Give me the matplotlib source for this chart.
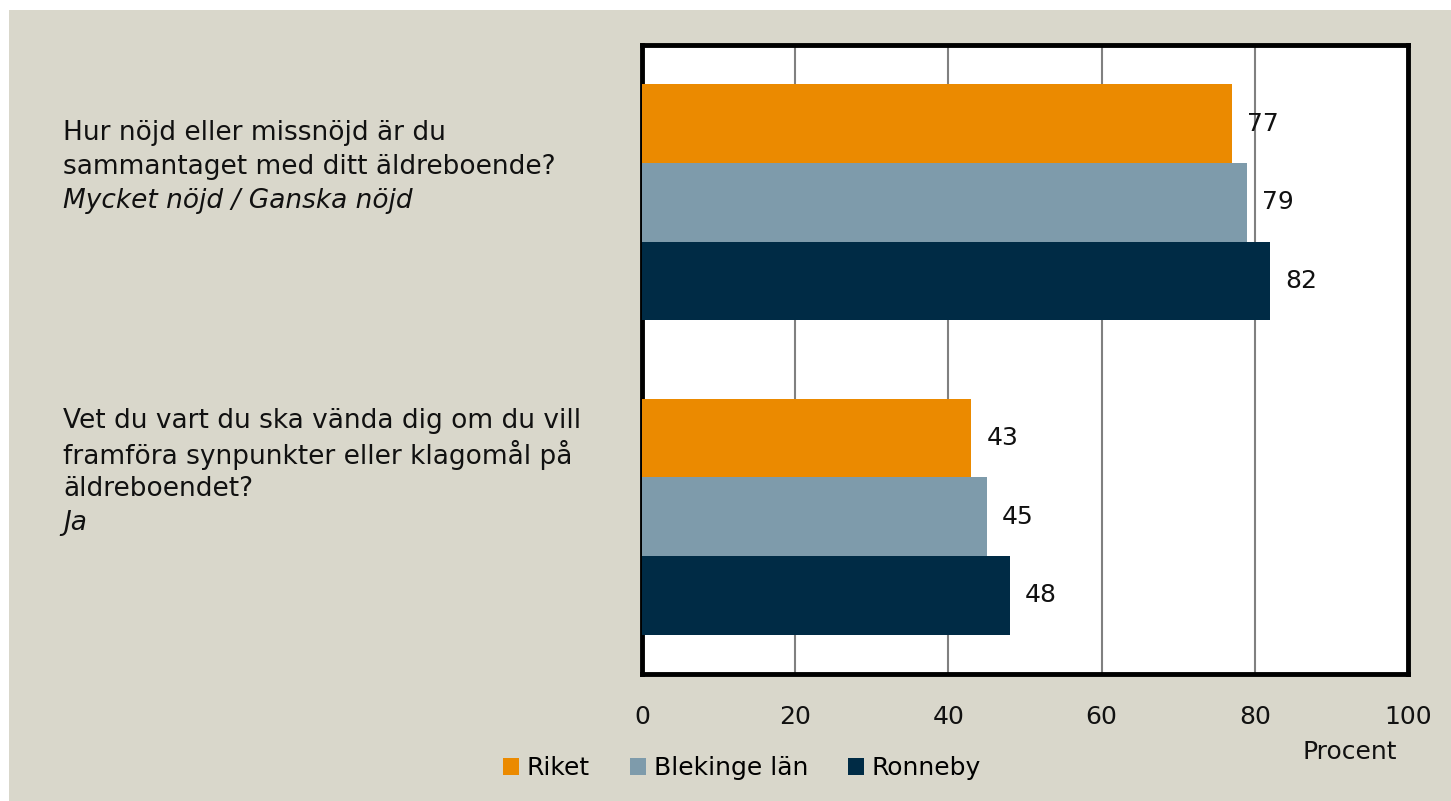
import numpy as np
import matplotlib
matplotlib.use("Agg")
import matplotlib.pyplot as plt
from matplotlib.patches import Rectangle

series = ["Riket", "Blekinge län", "Ronneby"]
riket = [77, 43]
blekinge = [79, 45]
ronneby = [82, 48]
colors = ["#EB8A00", "#7E9BAB", "#002B45"]
questions = [
    (["Hur nöjd eller missnöjd är du", "sammantaget med ditt äldreboende?"], "Mycket nöjd / Ganska nöjd"),
    (["Vet du vart du ska vända dig om du vill", "framföra synpunkter eller klagomål på", "äldreboendet?"], "Ja"),
]
xticks = [0, 20, 40, 60, 80, 100]

bg = "#D9D7CB"
fs = 17
qfs = 19
plt.rcParams["font.family"] = ["DejaVu Sans"]

W, H = 1451, 801
fig = plt.figure(figsize=(W / 100, H / 100), dpi=100)
fig.patch.set_facecolor("white")
fig.add_artist(Rectangle((9 / W, 0), 1, 1 - 10 / H, transform=fig.transFigure,
                         facecolor=bg, edgecolor="none", zorder=-10))

ax = fig.add_axes([642 / W, 1 - 674 / H, 766 / W, 629 / H])
ax.set_facecolor("white")

y = np.arange(len(riket))
h = 0.25
for i, (vals, c, name) in enumerate(zip([riket, blekinge, ronneby], colors, series)):
    pos = y + (i - 1) * h
    ax.barh(pos, vals, height=h, color=c, label=name, zorder=3)
    for p, v in zip(pos, vals):
        ax.text(v + 2, p, str(v), va="center", ha="left", fontsize=fs + 1, color="#111111")

ax.set_xlim(0, 100)
ax.set_ylim(1.5, -0.5)
ax.set_xticks(xticks)
ax.set_yticks([])
ax.xaxis.grid(True, color="#808080", linewidth=1.5, zorder=0)
ax.tick_params(axis="x", length=0, pad=22, labelsize=fs + 1, colors="#111111")
for s in ax.spines.values():
    s.set_linewidth(3.5)
    s.set_color("black")

# question labels on the left
starts = [133, 421]
step = 34
for (lines, sub), y0 in zip(questions, starts):
    for k, line in enumerate(lines):
        fig.text(63 / W, 1 - (y0 + k * step) / H, line, fontsize=qfs, va="center", ha="left", color="#111111")
    fig.text(63 / W, 1 - (y0 + len(lines) * step) / H, sub, fontsize=qfs, style="italic",
             va="center", ha="left", color="#111111")

fig.text(1350 / W, 1 - 752 / H, "Procent", fontsize=fs + 1, ha="center", va="center", color="#111111")

fig.legend(loc="center", bbox_to_anchor=(742 / W, 1 - 768 / H), ncol=3, frameon=False,
           fontsize=fs + 1, handlelength=0.65, handleheight=0.65, handletextpad=0.3, columnspacing=1.6)

fig.savefig("out.png", dpi=100, facecolor=fig.get_facecolor())
